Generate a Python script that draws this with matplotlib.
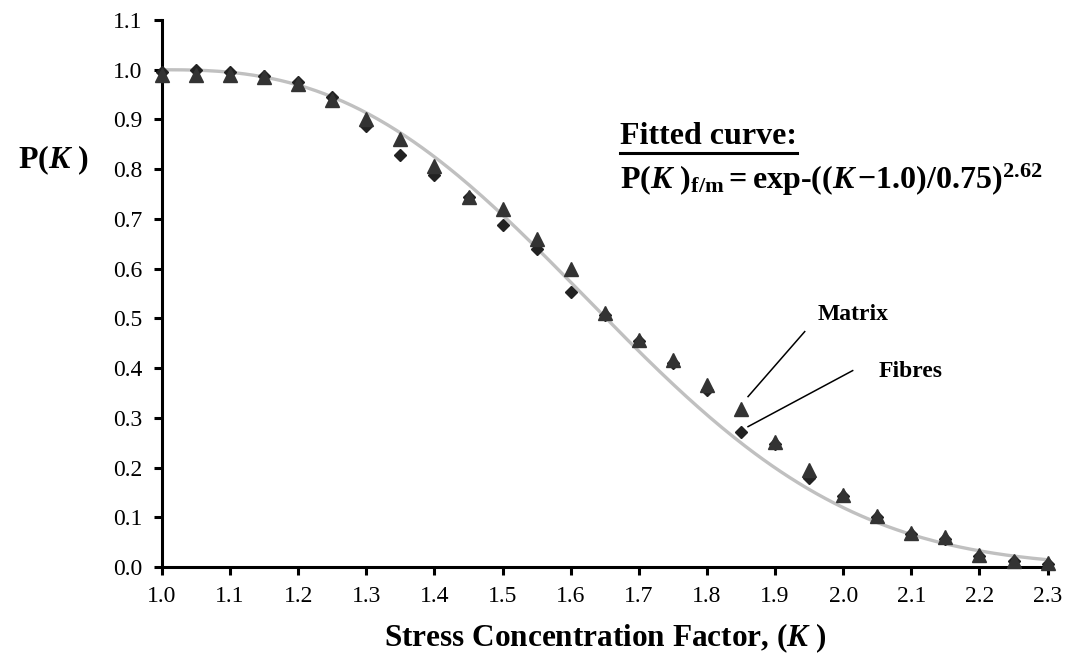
import numpy as np
import matplotlib
matplotlib.use("Agg")
import matplotlib.pyplot as plt
from matplotlib.lines import Line2D

plt.rcParams['font.family'] = 'Liberation Serif'
plt.rcParams['mathtext.fontset'] = 'custom'
plt.rcParams['mathtext.rm'] = 'Liberation Serif:bold'
plt.rcParams['mathtext.it'] = 'Liberation Serif:bold:italic'
plt.rcParams['mathtext.bf'] = 'Liberation Serif:bold'

# Measured stress concentration factors and probabilities
K = [1.0, 1.05, 1.1, 1.15, 1.2, 1.25, 1.3, 1.35, 1.4, 1.45, 1.5, 1.55, 1.6, 1.65,
     1.7, 1.75, 1.8, 1.85, 1.9, 1.95, 2.0, 2.05, 2.1, 2.15, 2.2, 2.25, 2.3]
P_fibres = [0.995, 1.0, 0.995, 0.987, 0.976, 0.945, 0.887, 0.828, 0.789, 0.745, 0.688,
            0.640, 0.553, 0.507, 0.455, 0.411, 0.355, 0.272, 0.248, 0.180, 0.143,
            0.100, 0.066, 0.056, 0.022, 0.012, 0.006]
P_matrix = [0.99, 0.99, 0.99, 0.985, 0.972, 0.94, 0.90, 0.861, 0.807, 0.745, 0.720,
            0.660, 0.600, 0.510, 0.457, 0.416, 0.366, 0.318, 0.252, 0.196, 0.145,
            0.103, 0.068, 0.060, 0.025, 0.013, 0.008]

# Fitted Weibull-type curve
K0, K_scale, m = 1.0, 0.75, 2.62
k_fit = np.linspace(1.0, 2.3, 300)
p_fit = np.exp(-((k_fit - K0) / K_scale) ** m)

fig = plt.figure(figsize=(10.67, 6.61), dpi=100)
ax = fig.add_axes([0.1518, 0.1422, 0.8300, 0.8275])

ax.plot(k_fit, p_fit, color='#c0c0c0', lw=2.4, zorder=2)
ax.plot(K, P_fibres, 'D', color='#222222', ms=6, clip_on=False, zorder=3)
ax.plot(K, P_matrix, '^', color='#333333', ms=10, clip_on=False, zorder=4)

ax.set_xlim(1.0, 2.3)
ax.set_ylim(0.0, 1.1)
ax.set_xticks(np.arange(1.0, 2.31, 0.1))
ax.set_yticks(np.arange(0.0, 1.11, 0.1))
ax.xaxis.set_major_formatter(plt.FormatStrFormatter('%.1f'))
ax.yaxis.set_major_formatter(plt.FormatStrFormatter('%.1f'))
ax.tick_params(direction='out', length=6, width=2.2, labelsize=17, pad=8)
for s in ['top', 'right']:
    ax.spines[s].set_visible(False)
for s in ['left', 'bottom']:
    ax.spines[s].set_linewidth(2.2)

ax.set_xlabel(r'Stress Concentration Factor, ($K$ )', fontsize=22.5,
              fontweight='bold', labelpad=10)
ax.text(-0.122, 0.744, r'$\mathrm{P(}K\ \mathrm{)}$', transform=ax.transAxes,
        fontsize=23, ha='center', va='center')

title = ax.text(1.672, 0.85, 'Fitted curve:', fontsize=23, fontweight='bold',
                ha='left', va='baseline')
ax.text(1.672, 0.76,
        r'$\mathrm{P(}K\ \mathrm{)_{f/m}} = \mathrm{exp\text{-}((}K\,{-}'
        r'\mathrm{1.0)/0.75)^{2.62}}$',
        fontsize=23, ha='left', va='baseline')

# leader lines to the 1.85 points
ax.plot([1.9435, 1.8603], [0.4734, 0.3427], color='black', lw=1.1)
ax.plot([2.0139, 1.8603], [0.395, 0.2823], color='black', lw=1.1)
ax.text(2.014, 0.507, 'Matrix', fontsize=17, fontweight='bold',
        ha='center', va='center')
ax.text(2.099, 0.393, 'Fibres', fontsize=17, fontweight='bold',
        ha='center', va='center')

# underline the heading
fig.canvas.draw()
bb = title.get_window_extent().transformed(fig.transFigure.inverted())
y_ul = bb.y0 - 0.003
fig.add_artist(Line2D([bb.x0, bb.x1], [y_ul, y_ul], transform=fig.transFigure,
                      color='black', lw=2.2))

fig.savefig('out.png', dpi=100)
